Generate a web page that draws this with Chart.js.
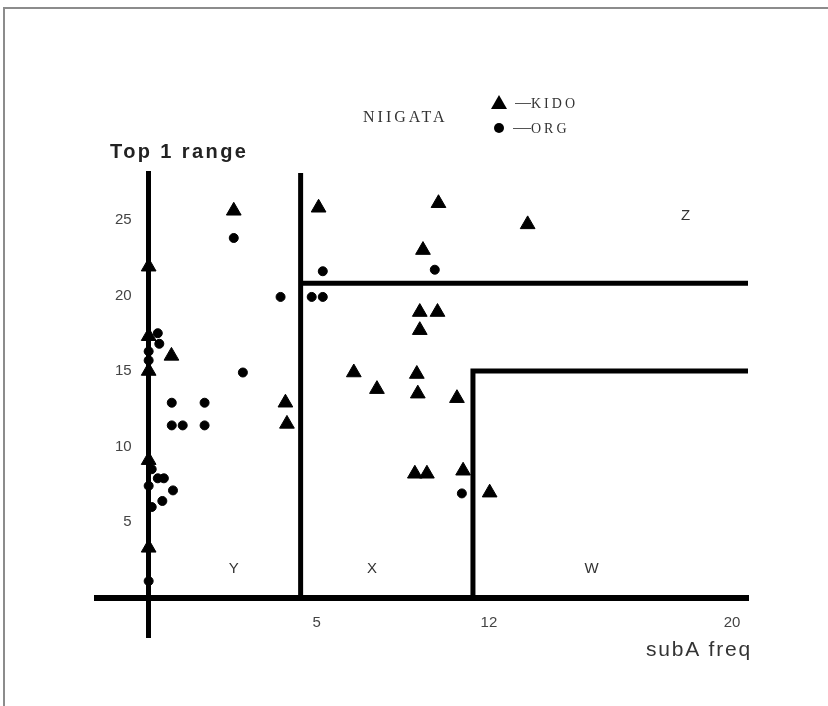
<!DOCTYPE html>
<html>
<head>
<meta charset="utf-8">
<script src="https://cdn.jsdelivr.net/npm/chart.js@4.4.0/dist/chart.umd.min.js"></script>
<style>
  html, body { margin: 0; padding: 0; background: #fff; }
  #wrap { position: relative; width: 828px; height: 706px; overflow: hidden; }
  #frame { position: absolute; left: 3px; top: 7px; width: 900px; height: 800px;
           border-left: 2px solid #8c8c8c; border-top: 2px solid #8c8c8c; }
  canvas { position: absolute; left: 0; top: 0; }
</style>
</head>
<body>
<div id="wrap">
  <div id="frame"></div>
  <canvas id="chart" width="828" height="706"></canvas>
</div>
<script>
// KIDO (triangles)
const kidoX = [0, 0, 0, 0, 0, 0.75, 2.8, 4.5, 4.55, 5.73, 10.6, 9.97, 9.84, 10.56, 9.84,
               13.8, 7.16, 8.1, 9.72, 9.76, 11.35, 9.64, 10.13, 11.6, 12.55];
const kidoY = [21.9, 17.3, 15.0, 9.1, 3.3, 16.0, 25.6, 12.9, 11.5, 25.8, 26.1, 23.0, 18.9, 18.9, 17.7,
               24.7, 14.9, 13.8, 14.8, 13.5, 13.2, 8.2, 8.2, 8.4, 6.95];
// ORG (circles)
const orgX = [2.8, 4.34, 5.9, 10.45, 5.45, 5.9, 3.1, 0.76, 1.84, 0.76, 1.12, 1.84, 11.55,
              0.3, 0.35, 0, 0, 0.1, 0.3, 0.5, 0.8, 0.45, 0.1, 0, 0];
const orgY = [23.8, 19.9, 21.6, 21.7, 19.9, 19.9, 14.9, 12.9, 12.9, 11.4, 11.4, 11.4, 6.9,
              17.5, 16.8, 16.3, 15.7, 8.5, 7.9, 7.9, 7.1, 6.4, 6.0, 7.4, 1.1];

const xTicks = [5, 12, 20];
const yTicks = [5, 10, 15, 20, 25];

// region boundaries
const splitX1 = 5;
const splitY1 = 20.8;
const splitX2 = 12;
const splitY2 = 15;
const regionNames = ['Y', 'X', 'W', 'Z'];
const regionAt = [[2.8, 2.0], [7.9, 2.0], [15.9, 2.0], [19.0, 25.4]];

const xMin = -1.7, xMax = 21.05, yMin = -2.6, yMax = 28.1;

// the hand drawn x axis is squeezed between 5 and 12
const midStretch = 0.81;
function warp(v) {
  if (v <= 5) return v;
  if (v <= 12) return 5 + (v - 5) * midStretch;
  return 5 + 7 * midStretch + (v - 12);
}
function unwarp(w) {
  if (w <= 5) return w;
  const w12 = 5 + 7 * midStretch;
  if (w <= w12) return 5 + (w - 5) / midStretch;
  return 12 + (w - w12);
}

class WarpedScale extends Chart.LinearScale {
  getPixelForValue(value) {
    if (value === null || value === undefined || isNaN(value)) return NaN;
    const a = warp(this.min), b = warp(this.max);
    return this.getPixelForDecimal((warp(value) - a) / (b - a));
  }
  getValueForPixel(pixel) {
    const a = warp(this.min), b = warp(this.max);
    return unwarp(a + this.getDecimalForPixel(pixel) * (b - a));
  }
}
WarpedScale.id = 'warped';
WarpedScale.defaults = Chart.LinearScale.defaults;

// y axis sits at x = 0; push its labels off the axis line
const yLabelGap = 17;
class CrossedScale extends Chart.LinearScale {
  _computeLabelItems(chartArea) {
    const items = super._computeLabelItems(chartArea);
    items.forEach(it => { it.options.translation[0] -= yLabelGap; });
    return items;
  }
}
CrossedScale.id = 'crossed';
CrossedScale.defaults = Chart.LinearScale.defaults;
Chart.register(WarpedScale, CrossedScale);

const toPoints = (xs, ys) => xs.map((x, i) => ({ x: x, y: ys[i] }));

function text(ctx, str, x, y, font, color, align, spacing) {
  ctx.save();
  ctx.font = font;
  ctx.fillStyle = color;
  ctx.textAlign = align || 'left';
  ctx.textBaseline = 'alphabetic';
  if ('letterSpacing' in ctx) ctx.letterSpacing = (spacing || 0) + 'px';
  ctx.fillText(str, x, y);
  ctx.restore();
}

const annotations = {
  id: 'annotations',
  afterDraw(chart) {
    const ctx = chart.ctx;
    const sx = chart.scales.x, sy = chart.scales.y;
    text(ctx, 'Top 1 range', 110, 158, 'bold 20px "Liberation Sans", Arial, sans-serif', '#222', 'left', 2.4);
    text(ctx, 'subA freq', 752, 656, '21px "Liberation Sans", Arial, sans-serif', '#333', 'right', 1.8);
    text(ctx, 'NIIGATA', 363, 122, '16px "Liberation Serif", "DejaVu Serif", serif', '#333', 'left', 3);

    // legend
    ctx.save();
    ctx.fillStyle = '#000';
    ctx.beginPath();
    ctx.moveTo(499, 95); ctx.lineTo(507, 109); ctx.lineTo(491, 109); ctx.closePath();
    ctx.fill();
    ctx.beginPath();
    ctx.arc(499, 128, 5, 0, Math.PI * 2);
    ctx.fill();
    ctx.strokeStyle = '#555';
    ctx.lineWidth = 1;
    ctx.beginPath();
    ctx.moveTo(515, 103.5); ctx.lineTo(531, 103.5);
    ctx.moveTo(513, 128.5); ctx.lineTo(531, 128.5);
    ctx.stroke();
    ctx.restore();
    text(ctx, 'KIDO', 531, 108, '14px "Liberation Serif", "DejaVu Serif", serif', '#333', 'left', 3);
    text(ctx, 'ORG', 531, 133, '14px "Liberation Serif", "DejaVu Serif", serif', '#333', 'left', 3);

    regionNames.forEach((name, i) => {
      const px = sx.getPixelForValue(regionAt[i][0]);
      const py = sy.getPixelForValue(regionAt[i][1]);
      text(ctx, name, px, py + 6, '15px "Liberation Sans", Arial, sans-serif', '#333', 'center', 0);
    });
  }
};

const lineStyle = {
  showLine: true, pointRadius: 0, borderColor: '#000', borderWidth: 5,
  borderJoinStyle: 'miter', borderCapStyle: 'butt', fill: false, tension: 0
};

new Chart(document.getElementById('chart'), {
  type: 'scatter',
  data: {
    datasets: [
      { label: 'KIDO', data: toPoints(kidoX, kidoY), pointStyle: 'triangle', pointRadius: 8.5,
        backgroundColor: '#000', borderColor: '#000', borderWidth: 1 },
      { label: 'ORG', data: toPoints(orgX, orgY), pointStyle: 'circle', pointRadius: 4.5,
        backgroundColor: '#000', borderColor: '#000', borderWidth: 1 },
      Object.assign({ label: 'split5', data: [{ x: splitX1, y: 0 }, { x: splitX1, y: yMax }] }, lineStyle),
      Object.assign({ label: 'split21', data: [{ x: splitX1, y: splitY1 }, { x: xMax, y: splitY1 }] }, lineStyle),
      Object.assign({ label: 'split12', data: [{ x: splitX2, y: 0 }, { x: splitX2, y: splitY2 }, { x: xMax, y: splitY2 }] }, lineStyle)
    ]
  },
  options: {
    responsive: false,
    animation: false,
    layout: { padding: { left: 97, right: 80, top: 173, bottom: 69 } },
    plugins: { legend: { display: false }, tooltip: { enabled: false } },
    scales: {
      x: {
        type: 'warped',
        position: { y: 0 },
        min: xMin, max: xMax,
        grid: { display: false },
        border: { display: true, color: '#000', width: 6 },
        afterBuildTicks: (scale) => { scale.ticks = xTicks.map(v => ({ value: v })); },
        ticks: { color: '#444', font: { family: '"Liberation Sans", Arial, sans-serif', size: 15 },
                 padding: 8, labelOffset: 16, maxRotation: 0, autoSkip: false }
      },
      y: {
        type: 'crossed',
        position: { x: 0 },
        min: yMin, max: yMax,
        grid: { display: false },
        border: { display: true, color: '#000', width: 5 },
        afterBuildTicks: (scale) => { scale.ticks = yTicks.map(v => ({ value: v })); },
        ticks: { color: '#444', font: { family: '"Liberation Sans", Arial, sans-serif', size: 15 },
                 autoSkip: false }
      }
    }
  },
  plugins: [annotations]
});
</script>
</body>
</html>
